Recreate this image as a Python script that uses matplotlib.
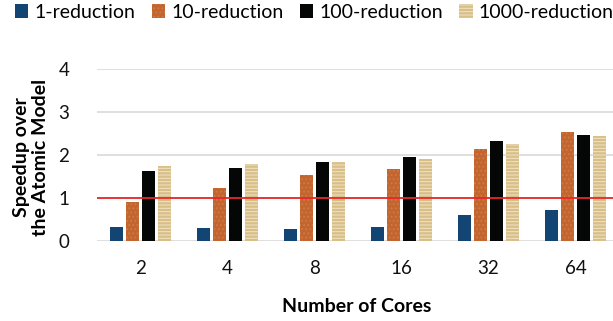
import numpy as np
import matplotlib.pyplot as plt

cores = ['2', '4', '8', '16', '32', '64']
red_1 = [0.32, 0.30, 0.27, 0.32, 0.60, 0.72]
red_10 = [0.90, 1.24, 1.53, 1.67, 2.14, 2.54]
red_100 = [1.63, 1.70, 1.83, 1.95, 2.33, 2.47]
red_1000 = [1.75, 1.79, 1.84, 1.91, 2.26, 2.44]

series = [
    ('1-reduction', red_1, '#124474', None, None),
    ('10-reduction', red_10, '#C2652F', '....', '#D07A45'),
    ('100-reduction', red_100, '#050706', None, None),
    ('1000-reduction', red_1000, '#D8BE87', '-----', '#EFE0C0'),
]

plt.rcParams['font.family'] = ['Lato', 'DejaVu Sans']
plt.rcParams['hatch.linewidth'] = 0.8

fig = plt.figure(figsize=(6.13, 3.21), dpi=100)
ax = fig.add_axes([97 / 613, 80 / 321, 522 / 613, 172 / 321])

x = np.arange(len(cores))
pitch = 0.182
width = 0.146
for i, (name, vals, color, hatch, hcolor) in enumerate(series):
    bars = ax.bar(x + (i - 1.5) * pitch, vals, width, color=color, label=name,
                  zorder=3, linewidth=0)
    if hatch:
        for b in bars:
            b.set_hatch(hatch)
            b.set_edgecolor(hcolor)

ax.axhline(1, color='#E8262B', linewidth=1.3, zorder=4)

ax.set_xlim(-0.5, 5.5)
ax.set_ylim(0, 4)
ax.set_yticks([0, 1, 2, 3, 4])
ax.set_xticks(x)
ax.set_xticklabels(cores)
ax.grid(axis='y', color='#D9D9D9', linewidth=1.2, zorder=0)
for s in ax.spines.values():
    s.set_visible(False)
ax.tick_params(length=0, labelsize=13.5, colors='#111111')
ax.tick_params(axis='x', pad=14)
ax.tick_params(axis='y', pad=20)

fig.text(357 / 613, 1 - 306 / 321, 'Number of Cores', ha='center', va='center',
         fontsize=14, fontweight='bold')
fig.text(31 / 613, 1 - 157 / 321, 'Speedup over\nthe Atomic Model', ha='center',
         va='center', rotation=90, fontsize=14, fontweight='bold', linespacing=1.1)

fig.legend(loc='upper left', bbox_to_anchor=(0.005, 1.025), ncol=4, frameon=False,
           fontsize=14, handlelength=0.7, handleheight=0.7, handletextpad=0.3,
           columnspacing=0.85, borderaxespad=0.2)

fig.savefig('out.png', dpi=100)
